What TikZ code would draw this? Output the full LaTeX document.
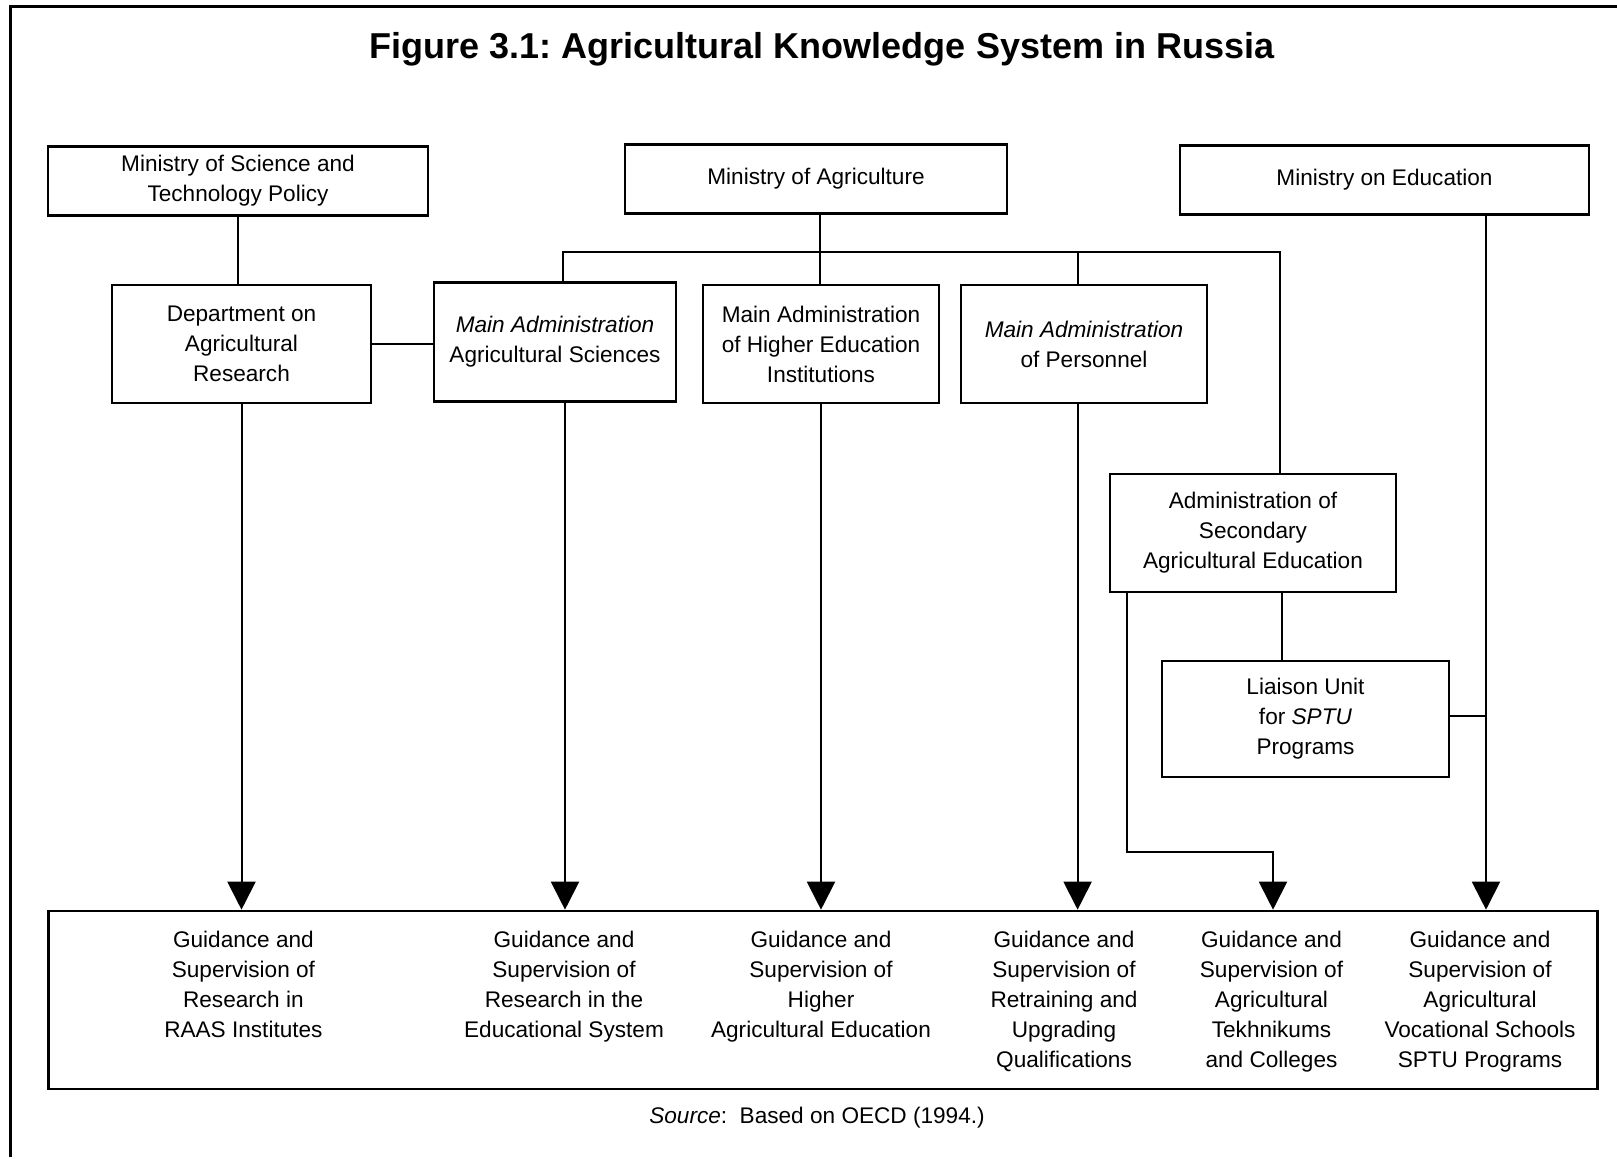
\documentclass[tikz,border=0pt]{standalone}
\usepackage{fontspec}
\setmainfont{Liberation Sans}
\usetikzlibrary{arrows.meta,positioning,calc}
\frenchspacing

\begin{document}
\begin{tikzpicture}[
    x=0.5pt, y=-0.5pt,
    font=\fontsize{11.3}{15}\selectfont,
    box/.style={rectangle, draw, line width=1.3pt, align=center, inner sep=0pt},
    coltext/.style={align=center, inner sep=0pt, anchor=north},
    line/.style={line width=1pt},
    arrow/.style={line width=1pt, -{Triangle[length=14pt,width=14pt]}},
    frame/.style={line width=1.5pt}
]
\useasboundingbox (0,0) rectangle (1617,1159);

% frame and title
\draw[frame] (1617,7) -- (10,7) -- (10,1157);
\node[font=\fontsize{18}{21}\selectfont\bfseries, anchor=base] (title) at (822,59) {Figure 3.1: Agricultural Knowledge System in Russia};

% ministries
\node[box, minimum width=190pt, minimum height=34.25pt] (minsci) at (238,181) {Ministry of Science and\\Technology Policy};
\node[box, minimum width=191pt, minimum height=34.25pt] (minag) at (816,179) {Ministry of Agriculture};
\node[box, minimum width=204.5pt, minimum height=34.25pt] (mined) at (1384.5,180) {Ministry on Education};

% departments
\node[box, minimum width=129.5pt, minimum height=59pt] (dept) at (241.5,344) {Department on\\Agricultural\\Research};
\node[box, minimum width=121pt, minimum height=59.75pt] (agsci) at (555,342) {\textit{Main Administration}\\Agricultural Sciences};
\node[box, minimum width=118pt, minimum height=59pt] (higher) at (821,344) {Main Administration\\of Higher Education\\Institutions};
\node[box, minimum width=123pt, minimum height=59pt] (pers) at (1084,344) {\textit{Main Administration}\\of Personnel};
\node[box, minimum width=143pt, minimum height=59pt] (adminsec) at (1253,533) {Administration of\\Secondary\\Agricultural Education};
\node[box, minimum width=143.5pt, minimum height=58pt] (liaison) at (1305.5,719) {Liaison Unit\\for \textit{SPTU}\\Programs};

% guidance box
\node[box, minimum width=774.5pt, minimum height=89pt] (guide) at (823,1000) {};
\node[coltext] (g1) at (243.4,931) {Guidance and\\Supervision of\\Research in\\RAAS Institutes};
\node[coltext] (g2) at (564,931) {Guidance and\\Supervision of\\Research in the\\Educational System};
\node[coltext] (g3) at (821,931) {Guidance and\\Supervision of\\Higher\\Agricultural Education};
\node[coltext] (g4) at (1064,931) {Guidance and\\Supervision of\\Retraining and\\Upgrading\\Qualifications};
\node[coltext] (g5) at (1271.5,931) {Guidance and\\Supervision of\\Agricultural\\Tekhnikums\\and Colleges};
\node[coltext] (g6) at (1480,931) {Guidance and\\Supervision of\\Agricultural\\Vocational Schools\\SPTU Programs};

\node (src) at (817,1118) {\textit{Source}:~~Based on OECD (1994.)};

% connectors
\coordinate (bar) at (820,251.6);
\coordinate (secin) at ([xshift=13.5pt]adminsec.north);
\coordinate (edout) at ([xshift=50.75pt]mined.south);
\coordinate (kink) at (1273,852);

\draw[line] (minsci.south) -- (minsci.south |- dept.north);
\draw[line] ([xshift=2pt]minag.south) -- ([xshift=2pt]minag.south |- higher.north);
\draw[line] ([xshift=4pt]agsci.north) |- (secin |- bar) -- (secin);
\draw[line] ([xshift=-3.2pt]pers.north) -- ([xshift=-3.2pt]pers.north |- bar);
\draw[line] (dept.east) -- (dept.east -| agsci.west);
\draw[line] ([xshift=14.5pt]adminsec.south) -- ([xshift=14.5pt]adminsec.south |- liaison.north);
\draw[line] ([yshift=1.6pt]liaison.east) -- ([yshift=1.6pt]liaison.east -| edout);

\draw[arrow] (dept.south) -- (dept.south |- guide.north);
\draw[arrow] ([xshift=5pt]agsci.south) -- ([xshift=5pt]agsci.south |- guide.north);
\draw[arrow] (higher.south) -- (higher.south |- guide.north);
\draw[arrow] ([xshift=-3.2pt]pers.south) -- ([xshift=-3.2pt]pers.south |- guide.north);
\draw[arrow] ([xshift=9.2pt]adminsec.south west) |- (kink) -- (kink |- guide.north);
\draw[arrow] (edout) -- (edout |- guide.north);

\end{tikzpicture}
\end{document}
